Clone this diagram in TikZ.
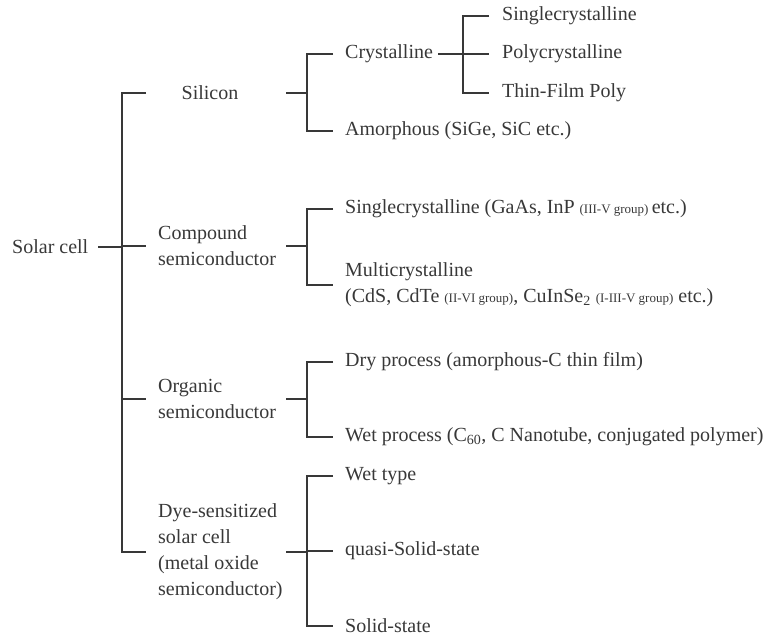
\documentclass[tikz,border=0pt]{standalone}
\usepackage{fontspec}
\setmainfont{Liberation Serif}
\definecolor{ink}{gray}{0.22}
\newcommand{\grp}[1]{{\fontsize{13}{13}\selectfont #1}}

\begin{document}
\begin{tikzpicture}[x=1pt, y=-1pt,
        every node/.style={text=ink, inner sep=0pt, font=\fontsize{20}{26}\selectfont},
        lbl/.style={anchor=west, align=left},
        br/.style={draw=ink, line width=1.8pt}]
    \useasboundingbox (0,0) rectangle (766,636);
    % columns of the brackets
    \coordinate (s1) at (98,0);  \coordinate (j1) at (122,0); \coordinate (t1) at (146,0);
    \coordinate (s2) at (286,0); \coordinate (j2) at (307,0); \coordinate (t2) at (333,0);
    \coordinate (s3) at (438,0); \coordinate (j3) at (463,0); \coordinate (t3) at (489,0);
    % first level
    \node[lbl] (root) at (12,247) {Solar cell};
    \node (sil) at (210,93) {Silicon};
    \node[lbl] (comp) at (158,246) {Compound\\semiconductor};
    \node[lbl] (org) at (158,399) {Organic\\semiconductor};
    \node[lbl] (dye) at (158,552) {Dye-sensitized\\solar cell\\(metal oxide\\semiconductor)};
    % second level
    \node[lbl] (cry) at (345,54) {Crystalline};
    \node[lbl] (amo) at (345,131) {Amorphous (SiGe, SiC etc.)};
    \node[lbl] (scr) at (345,209) {Singlecrystalline (GaAs, InP \grp{(III-V group) }etc.)};
    \node[lbl] (mcr) at (345,285) {Multicrystalline\\(CdS, CdTe \grp{(II-VI group)}, CuInSe\textsubscript{2} \grp{(I-III-V group)} etc.)};
    \node[lbl] (dry) at (345,362) {Dry process (amorphous-C thin film)};
    \node[lbl] (wet) at (345,437) {Wet process (C\textsubscript{60}, C Nanotube, conjugated polymer)};
    \node[lbl] (wty) at (345,476) {Wet type};
    \node[lbl] (qss) at (345,551) {quasi-Solid-state};
    \node[lbl] (sst) at (345,626) {Solid-state};
    % third level
    \node[lbl] (sc) at (502,16) {Singlecrystalline};
    \node[lbl] (pc) at (502,54) {Polycrystalline};
    \node[lbl] (tf) at (502,93) {Thin-Film Poly};

    \draw[br] (root -| s1) -- (root -| j1);
    \draw[br] (sil -| t1) -- (sil -| j1) -- (dye -| j1) -- (dye -| t1);
    \foreach \n in {comp,org}
        \draw[br] (\n -| j1) -- (\n -| t1);
    \foreach \p/\a/\b in {sil/cry/amo, comp/scr/mcr, org/dry/wet, dye/wty/sst} {
        \draw[br] (\p -| s2) -- (\p -| j2);
        \draw[br] (\a -| t2) -- (\a -| j2) -- (\b -| j2) -- (\b -| t2);
    }
    \draw[br] (qss -| j2) -- (qss -| t2);
    \draw[br] (cry -| s3) -- (cry -| j3);
    \draw[br] (sc -| t3) -- (sc -| j3) -- (tf -| j3) -- (tf -| t3);
    \draw[br] (pc -| j3) -- (pc -| t3);
\end{tikzpicture}
\end{document}
